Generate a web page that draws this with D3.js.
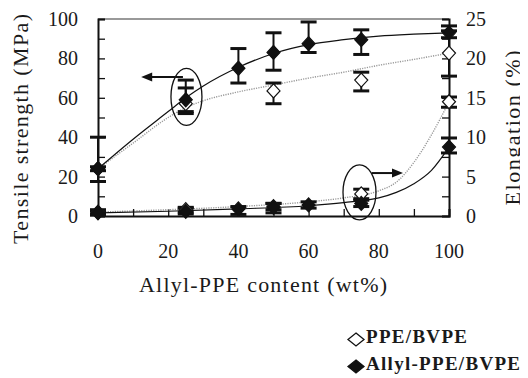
<!DOCTYPE html>
<meta charset="utf-8">
<script src="https://d3js.org/d3.v7.min.js"></script>
<div id="chart"></div>
<script>

// Allyl-PPE/BVPE measurements
const allylX = [0, 25, 40, 50, 60, 75, 100];
const allylTensile   = [24, 59, 75, 83, 87.5, 89.5, 93];
const allylTensileLo = [17.5, 53, 67.5, 74, 83, 82, 90.5];
const allylTensileHi = [40, 69, 85, 93, 98.5, 94.5, 96.5];
const allylElong   = [0.4, 0.6, 0.9, 1.1, 1.4, 1.6, 8.75];
const allylElongLo = [0.1, 0.25, 0.2, 0.4, 1.0, 1.2, 8.0];
const allylElongHi = [0.8, 1.0, 1.2, 1.6, 1.8, 2.0, 9.9];

// PPE/BVPE measurements
const ppeX = [0, 25, 50, 75, 100];
const ppeTensile   = [24, 57, 63.5, 69, 82.7];
const ppeTensileLo = [23, 52, 57, 63.5, 71];
const ppeTensileHi = [25, 65, 67.5, 73, 94];
const ppeElong   = [0.5, 0.8, 1.2, 2.8, 14.5];
const ppeElongLo = [0.3, 0.5, 0.8, 2.2, 13.8];
const ppeElongHi = [0.7, 1.1, 1.6, 3.4, 15.1];

// fitted trend lines
const tensileFitX = [0, 10, 20, 25, 30, 40, 50, 60, 70, 80, 90, 100];
const allylTensileFit = [24, 39, 53, 60, 66, 75.5, 82.5, 87, 89.5, 91.3, 92.3, 93];
const ppeTensileFit   = [24, 37, 50, 55, 58.5, 63, 66.5, 70, 73, 76.5, 79.5, 82.7];
const elongFitX = [0, 20, 40, 60, 70, 80, 85, 90, 95, 100];
const allylElongFit = [0.4, 0.6, 0.9, 1.3, 1.7, 2.3, 3.0, 4.1, 5.8, 8.75];
const ppeElongFit   = [0.5, 0.8, 1.2, 1.8, 2.3, 3.2, 4.3, 6.8, 10.3, 14.5];

const xTicks = [0, 20, 40, 60, 80, 100];
const leftTicks = [0, 20, 40, 60, 80, 100];
const rightTicks = [0, 5, 10, 15, 20, 25];
const legendNames = ["PPE/BVPE", "Allyl-PPE/BVPE"];

const width = 528, height = 378;
const serif = '"Liberation Serif", "Times New Roman", Tinos, "Nimbus Roman", serif';

// ask for the serif faces up front so they are ready when the text is laid out
if (document.fonts) {
  document.fonts.load('20px "Liberation Serif"');
  document.fonts.load('bold 19px "Liberation Serif"');
}

// body keeps its default 8px margin, so pull the drawing back by 8px
const svg = d3.select("#chart").append("svg")
  .attr("width", width).attr("height", height)
  .append("g").attr("transform", "translate(-8,-8)");

const x = d3.scaleLinear().domain([0, 100]).range([98, 449]);
const yL = d3.scaleLinear().domain([0, 100]).range([216, 19]);
const yR = d3.scaleLinear().domain([0, 25]).range([216, 19]);

// frame top
svg.append("line")
  .attr("x1", x(0)).attr("x2", x(100)).attr("y1", yL(100)).attr("y2", yL(100))
  .attr("stroke", "#777").attr("stroke-width", 1.5);

// axes, ticks pointing inward
const bottom = svg.append("g").attr("transform", `translate(0,${yL(0)})`)
  .call(d3.axisTop(x).tickValues(d3.range(0, 101, 10)).tickSize(7).tickFormat(""));
const left = svg.append("g").attr("transform", `translate(${x(0)},0)`)
  .call(d3.axisRight(yL).tickValues(d3.range(0, 101, 10)).tickSize(7).tickFormat(""));
const right = svg.append("g").attr("transform", `translate(${x(100)},0)`)
  .call(d3.axisLeft(yR).tickValues(d3.range(0, 25.1, 2.5)).tickSize(7).tickFormat(""));

[bottom, left, right].forEach(g => {
  g.select(".domain").attr("stroke", "#111").attr("stroke-width", 2);
  g.selectAll(".tick line").attr("stroke", "#111").attr("stroke-width", 1.3);
});

// tick labels
const label = sel => sel.style("font-family", serif).attr("fill", "#1a1a1a");
svg.selectAll("text.xt").data(xTicks).join("text").call(label)
  .attr("x", d => x(d)).attr("y", 258)
  .attr("text-anchor", "middle").style("font-size", "20px")
  .text(d => d);
svg.selectAll("text.lt").data(leftTicks).join("text").call(label)
  .attr("x", 78).attr("y", d => yL(d) + 7)
  .attr("text-anchor", "end").style("font-size", "20px")
  .text(d => d);
svg.selectAll("text.rt").data(rightTicks).join("text").call(label)
  .attr("x", 466).attr("y", d => yR(d) + 7)
  .attr("text-anchor", "start").style("font-size", "20px")
  .text(d => d);

// axis titles (the original lettering runs wider than plain Times)
svg.append("text").call(label).attr("transform", "translate(28,129) rotate(-90)")
  .attr("text-anchor", "middle").style("font-size", "22px")
  .attr("textLength", 230).attr("lengthAdjust", "spacing")
  .text("Tensile strength (MPa)");
svg.append("text").call(label).attr("transform", "translate(520,128) rotate(-90)")
  .attr("text-anchor", "middle").style("font-size", "22px")
  .attr("textLength", 155).attr("lengthAdjust", "spacing")
  .text("Elongation (%)");
svg.append("text").call(label).attr("x", 263).attr("y", 292)
  .attr("text-anchor", "middle").style("font-size", "22px")
  .attr("textLength", 248).attr("lengthAdjust", "spacing")
  .text("Allyl-PPE content (wt%)");

// trend lines
function fit(xs, ys, ysc) {
  return d3.line().x((d, i) => x(xs[i])).y(d => ysc(d)).curve(d3.curveMonotoneX)(ys);
}
const dotted = { stroke: "#999", width: 1.4, dash: "1.2,1.2" };
const solid = { stroke: "#111", width: 1.2, dash: null };
[[tensileFitX, ppeTensileFit, yL, dotted], [elongFitX, ppeElongFit, yR, dotted],
 [tensileFitX, allylTensileFit, yL, solid], [elongFitX, allylElongFit, yR, solid]]
  .forEach(([xs, ys, ysc, st]) => {
    svg.append("path").attr("d", fit(xs, ys, ysc))
      .attr("fill", "none").attr("stroke", st.stroke)
      .attr("stroke-width", st.width).attr("stroke-dasharray", st.dash);
  });

// error bars
function errorBars(xs, lo, hi, ysc) {
  const g = svg.append("g").attr("stroke", "#111");
  xs.forEach((v, i) => {
    g.append("line").attr("x1", x(v)).attr("x2", x(v))
      .attr("y1", ysc(lo[i])).attr("y2", ysc(hi[i])).attr("stroke-width", 2);
    [lo[i], hi[i]].forEach(e => {
      g.append("line").attr("x1", x(v) - 8).attr("x2", x(v) + 8)
        .attr("y1", ysc(e)).attr("y2", ysc(e)).attr("stroke-width", 3);
    });
  });
}
errorBars(ppeX, ppeTensileLo, ppeTensileHi, yL);
errorBars(ppeX, ppeElongLo, ppeElongHi, yR);
errorBars(allylX, allylTensileLo, allylTensileHi, yL);
errorBars(allylX, allylElongLo, allylElongHi, yR);

// diamond markers
const diamond = (cx, cy, w, h) => `M${cx},${cy - h}L${cx + w},${cy}L${cx},${cy + h}L${cx - w},${cy}Z`;
function markers(xs, ys, ysc, filled) {
  svg.append("g").selectAll("path").data(ys).join("path")
    .attr("d", (d, i) => diamond(x(xs[i]), ysc(d), 6.5, 7))
    .attr("fill", filled ? "#111" : "#fff")
    .attr("stroke", "#111").attr("stroke-width", 1.2);
}
markers(ppeX, ppeTensile, yL, false);
markers(ppeX, ppeElong, yR, false);
markers(allylX, allylTensile, yL, true);
markers(allylX, allylElong, yR, true);

// annotations: ellipses and arrows
svg.append("ellipse").attr("cx", x(25.2)).attr("cy", yL(60.5))
  .attr("rx", 15.5).attr("ry", 28.5)
  .attr("fill", "none").attr("stroke", "#111").attr("stroke-width", 1.3);
svg.append("ellipse").attr("cx", x(74.5)).attr("cy", yR(3.0))
  .attr("rx", 16.5).attr("ry", 27.5)
  .attr("fill", "none").attr("stroke", "#111").attr("stroke-width", 1.3);

function arrow(x1, x2, yy) {
  const dir = Math.sign(x2 - x1);
  svg.append("line").attr("x1", x1).attr("x2", x2 - dir * 8).attr("y1", yy).attr("y2", yy)
    .attr("stroke", "#111").attr("stroke-width", 2);
  svg.append("path")
    .attr("d", `M${x2},${yy}L${x2 - dir * 11},${yy - 4.5}L${x2 - dir * 11},${yy + 4.5}Z`)
    .attr("fill", "#111");
}
arrow(x(24.2), x(12.3), yL(70.5));
arrow(x(78), x(86.9), yR(5.45));

// legend
const legendWidths = [101, 154];
legendNames.forEach((name, i) => {
  const base = 343 + i * 27;
  svg.append("path").attr("d", diamond(356, base - 3.5, 8, 6.5))
    .attr("fill", i === 0 ? "#fff" : "#111")
    .attr("stroke", "#111").attr("stroke-width", 1.3);
  svg.append("text").call(label).attr("x", 366).attr("y", base)
    .style("font-size", "19px").style("font-weight", "bold")
    .attr("textLength", legendWidths[i]).attr("lengthAdjust", "spacing")
    .text(name);
});
</script>
